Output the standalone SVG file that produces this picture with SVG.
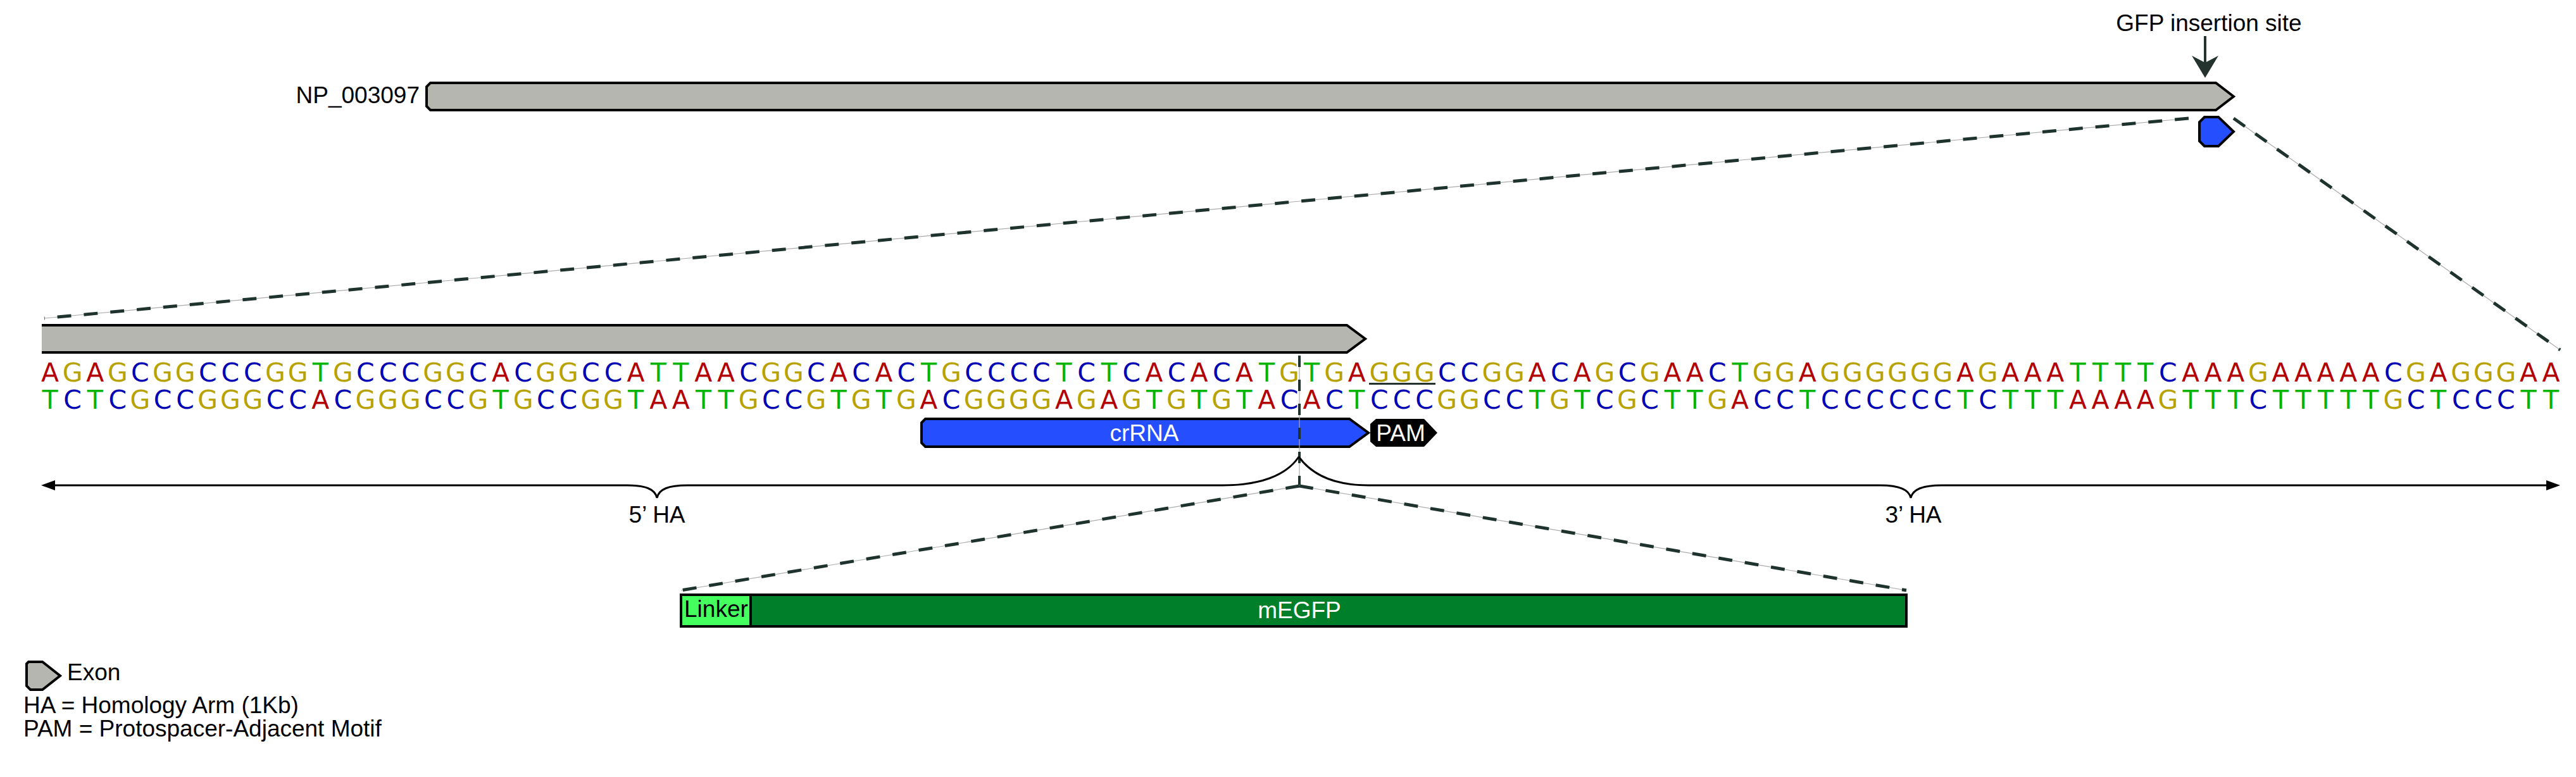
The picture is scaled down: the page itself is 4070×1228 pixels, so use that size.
<svg xmlns="http://www.w3.org/2000/svg" width="4070" height="1228" viewBox="0 0 4070 1228">
<style>
.lbl{font-family:"Liberation Sans",Arial,sans-serif;font-size:37px;fill:#000}
.wlbl{font-family:"Liberation Sans",Arial,sans-serif;font-size:37px;fill:#fff;text-anchor:middle}
.seq{font-family:"DejaVu Sans",sans-serif;font-size:41px;text-anchor:middle}
.a{fill:#b30000}.c{fill:#0000b4}.g{fill:#b8a200}.t{fill:#00b400}
.exon{fill:#b6b6b0;stroke:#000;stroke-width:4;stroke-linejoin:miter}
.blue{fill:#254eff;stroke:#000;stroke-width:4}
.thin{fill:none;stroke:#aaa;stroke-width:1.2}
.dash{fill:none;stroke:#1f332e;stroke-width:5;stroke-dasharray:22 20}
.ha{fill:none;stroke:#000;stroke-width:3}
</style>
<rect width="4070" height="1228" fill="#fff"/>

<g id="gene-overview">
  <text class="lbl" x="663" y="163" text-anchor="end">NP_003097</text>
  <polygon class="exon" points="680,131 3501,131 3529,152.5 3501,174 680,174 674,168 674,137"/>
</g>

<g id="small-exon">
  <polygon class="blue" points="3483,185 3505,185 3529,208 3505,231 3483,231 3475,223 3475,193"/>
</g>

<g id="gfp-insertion-site">
  <text class="lbl" x="3490" y="49" text-anchor="middle">GFP insertion site</text>
  <line x1="3484" y1="57" x2="3484" y2="100" stroke="#24332e" stroke-width="4"/>
  <polygon points="3463,88 3484,123 3505,88 3484,99" fill="#24332e"/>
</g>

<g id="sequence-exon">
  <polygon points="66,514 2128,514 2157,535.5 2128,557 66,557" fill="#b6b6b0"/>
  <path d="M66,514 H2128 L2157,535.5 L2128,557 H66" fill="none" stroke="#000" stroke-width="4"/>
</g>

<g id="sequence">
<text class="seq" y="603" x="79 114.6 150.2 185.8 221.4 257 292.6 328.2 363.8 399.4 435 470.6 506.2 541.8 577.4 613 648.6 684.2 719.8 755.4 791 826.6 862.2 897.8 933.4 969 1004.6 1040.2 1075.8 1111.4 1147 1182.6 1218.2 1253.8 1289.4 1325 1360.6 1396.2 1431.8 1467.4 1503 1538.6 1574.2 1609.8 1645.4 1681 1716.6 1752.2 1787.8 1823.4 1859 1894.6 1930.2 1965.8 2001.4 2037 2072.6 2108.2 2143.8 2179.4 2215 2250.6 2286.2 2321.8 2357.4 2393 2428.6 2464.2 2499.8 2535.4 2571 2606.6 2642.2 2677.8 2713.4 2749 2784.6 2820.2 2855.8 2891.4 2927 2962.6 2998.2 3033.8 3069.4 3105 3140.6 3176.2 3211.8 3247.4 3283 3318.6 3354.2 3389.8 3425.4 3461 3496.6 3532.2 3567.8 3603.4 3639 3674.6 3710.2 3745.8 3781.4 3817 3852.6 3888.2 3923.8 3959.4 3995 4030.6"><tspan class="a">A</tspan><tspan class="g">G</tspan><tspan class="a">A</tspan><tspan class="g">G</tspan><tspan class="c">C</tspan><tspan class="g">GG</tspan><tspan class="c">CCC</tspan><tspan class="g">GG</tspan><tspan class="t">T</tspan><tspan class="g">G</tspan><tspan class="c">CCC</tspan><tspan class="g">GG</tspan><tspan class="c">C</tspan><tspan class="a">A</tspan><tspan class="c">C</tspan><tspan class="g">GG</tspan><tspan class="c">CC</tspan><tspan class="a">A</tspan><tspan class="t">TT</tspan><tspan class="a">AA</tspan><tspan class="c">C</tspan><tspan class="g">GG</tspan><tspan class="c">C</tspan><tspan class="a">A</tspan><tspan class="c">C</tspan><tspan class="a">A</tspan><tspan class="c">C</tspan><tspan class="t">T</tspan><tspan class="g">G</tspan><tspan class="c">CCCC</tspan><tspan class="t">T</tspan><tspan class="c">C</tspan><tspan class="t">T</tspan><tspan class="c">C</tspan><tspan class="a">A</tspan><tspan class="c">C</tspan><tspan class="a">A</tspan><tspan class="c">C</tspan><tspan class="a">A</tspan><tspan class="t">T</tspan><tspan class="g">G</tspan><tspan class="t">T</tspan><tspan class="g">G</tspan><tspan class="a">A</tspan><tspan class="g">GGG</tspan><tspan class="c">CC</tspan><tspan class="g">GG</tspan><tspan class="a">A</tspan><tspan class="c">C</tspan><tspan class="a">A</tspan><tspan class="g">G</tspan><tspan class="c">C</tspan><tspan class="g">G</tspan><tspan class="a">AA</tspan><tspan class="c">C</tspan><tspan class="t">T</tspan><tspan class="g">GG</tspan><tspan class="a">A</tspan><tspan class="g">GGGGGG</tspan><tspan class="a">A</tspan><tspan class="g">G</tspan><tspan class="a">AAA</tspan><tspan class="t">TTTT</tspan><tspan class="c">C</tspan><tspan class="a">AAA</tspan><tspan class="g">G</tspan><tspan class="a">AAAAA</tspan><tspan class="c">C</tspan><tspan class="g">G</tspan><tspan class="a">A</tspan><tspan class="g">GGG</tspan><tspan class="a">AA</tspan></text>
<text class="seq" y="646" x="79 114.6 150.2 185.8 221.4 257 292.6 328.2 363.8 399.4 435 470.6 506.2 541.8 577.4 613 648.6 684.2 719.8 755.4 791 826.6 862.2 897.8 933.4 969 1004.6 1040.2 1075.8 1111.4 1147 1182.6 1218.2 1253.8 1289.4 1325 1360.6 1396.2 1431.8 1467.4 1503 1538.6 1574.2 1609.8 1645.4 1681 1716.6 1752.2 1787.8 1823.4 1859 1894.6 1930.2 1965.8 2001.4 2037 2072.6 2108.2 2143.8 2179.4 2215 2250.6 2286.2 2321.8 2357.4 2393 2428.6 2464.2 2499.8 2535.4 2571 2606.6 2642.2 2677.8 2713.4 2749 2784.6 2820.2 2855.8 2891.4 2927 2962.6 2998.2 3033.8 3069.4 3105 3140.6 3176.2 3211.8 3247.4 3283 3318.6 3354.2 3389.8 3425.4 3461 3496.6 3532.2 3567.8 3603.4 3639 3674.6 3710.2 3745.8 3781.4 3817 3852.6 3888.2 3923.8 3959.4 3995 4030.6"><tspan class="t">T</tspan><tspan class="c">C</tspan><tspan class="t">T</tspan><tspan class="c">C</tspan><tspan class="g">G</tspan><tspan class="c">CC</tspan><tspan class="g">GGG</tspan><tspan class="c">CC</tspan><tspan class="a">A</tspan><tspan class="c">C</tspan><tspan class="g">GGG</tspan><tspan class="c">CC</tspan><tspan class="g">G</tspan><tspan class="t">T</tspan><tspan class="g">G</tspan><tspan class="c">CC</tspan><tspan class="g">GG</tspan><tspan class="t">T</tspan><tspan class="a">AA</tspan><tspan class="t">TT</tspan><tspan class="g">G</tspan><tspan class="c">CC</tspan><tspan class="g">G</tspan><tspan class="t">T</tspan><tspan class="g">G</tspan><tspan class="t">T</tspan><tspan class="g">G</tspan><tspan class="a">A</tspan><tspan class="c">C</tspan><tspan class="g">GGGG</tspan><tspan class="a">A</tspan><tspan class="g">G</tspan><tspan class="a">A</tspan><tspan class="g">G</tspan><tspan class="t">T</tspan><tspan class="g">G</tspan><tspan class="t">T</tspan><tspan class="g">G</tspan><tspan class="t">T</tspan><tspan class="a">A</tspan><tspan class="c">C</tspan><tspan class="a">A</tspan><tspan class="c">C</tspan><tspan class="t">T</tspan><tspan class="c">CCC</tspan><tspan class="g">GG</tspan><tspan class="c">CC</tspan><tspan class="t">T</tspan><tspan class="g">G</tspan><tspan class="t">T</tspan><tspan class="c">C</tspan><tspan class="g">G</tspan><tspan class="c">C</tspan><tspan class="t">TT</tspan><tspan class="g">G</tspan><tspan class="a">A</tspan><tspan class="c">CC</tspan><tspan class="t">T</tspan><tspan class="c">CCCCCC</tspan><tspan class="t">T</tspan><tspan class="c">C</tspan><tspan class="t">TTT</tspan><tspan class="a">AAAA</tspan><tspan class="g">G</tspan><tspan class="t">TTT</tspan><tspan class="c">C</tspan><tspan class="t">TTTTT</tspan><tspan class="g">G</tspan><tspan class="c">C</tspan><tspan class="t">T</tspan><tspan class="c">CCC</tspan><tspan class="t">TT</tspan></text>
<line x1="2163" y1="606.5" x2="2268" y2="606.5" stroke="#24332e" stroke-width="3"/>
</g>

<g id="crRNA">
  <polygon class="blue" points="1462,662 2132,662 2162,684 2132,706 1462,706 1456,700 1456,668"/>
  <text class="wlbl" x="1808" y="697">crRNA</text>
</g>

<g id="PAM">
  <polygon points="2174,662 2250,662 2271,684 2250,706 2174,706 2165,698 2165,670" fill="#000"/>
  <text class="wlbl" x="2213" y="697">PAM</text>
</g>

<g id="mEGFP-insert">
  <rect x="1076" y="940" width="110" height="50" fill="#45ff5e" stroke="#000" stroke-width="4"/>
  <rect x="1186" y="940" width="1826" height="50" fill="#007f2a" stroke="#000" stroke-width="4"/>
  <text class="lbl" x="1081" y="975">Linker</text>
  <text class="wlbl" x="2053" y="977">mEGFP</text>
</g>

<g id="connectors">
  <line class="thin" x1="3458" y1="187" x2="70" y2="503"/>
  <line class="dash" x1="3458" y1="187" x2="70" y2="503"/>
  <line class="thin" x1="3529" y1="187" x2="4045" y2="553"/>
  <line class="dash" x1="3529" y1="187" x2="4045" y2="553"/>
  <line class="thin" x1="2053" y1="562" x2="2053" y2="766"/>
  <line x1="2053" y1="562" x2="2053" y2="766" stroke="#1f332e" stroke-width="4" stroke-dasharray="18 20"/>
  <polyline class="thin" points="1076,933 2053,768 3012,933"/>
  <polyline class="dash" points="2053,768 1076,933"/>
  <polyline class="dash" points="2053,768 3012,933"/>
  <path class="ha" d="M85,767 H991 C1020,767 1035,773 1038,787 C1041,773 1056,767 1086,767 H1932 C1990,767 2032,752 2052,722"/>
  <path class="ha" d="M2052,722 C2074,752 2112,767 2162,767 H2971 C3000,767 3016,773 3019,787 C3022,773 3038,767 3068,767 H4025"/>
  <polygon points="65,767 87,759 87,775" fill="#000"/>
  <polygon points="4045,767 4023,759 4023,775" fill="#000"/>
</g>

<g id="ha-labels">
  <text class="lbl" x="1038" y="826" text-anchor="middle">5’ HA</text>
  <text class="lbl" x="3023" y="826" text-anchor="middle">3’ HA</text>
</g>

<g id="legend">
  <polygon class="exon" points="45,1046 67,1046 95,1068 67,1090 48,1090 42,1084 42,1049"/>
  <text class="lbl" x="106" y="1075">Exon</text>
  <text class="lbl" x="37" y="1127">HA = Homology Arm (1Kb)</text>
  <text class="lbl" x="37" y="1164">PAM = Protospacer-Adjacent Motif</text>
</g>
</svg>
